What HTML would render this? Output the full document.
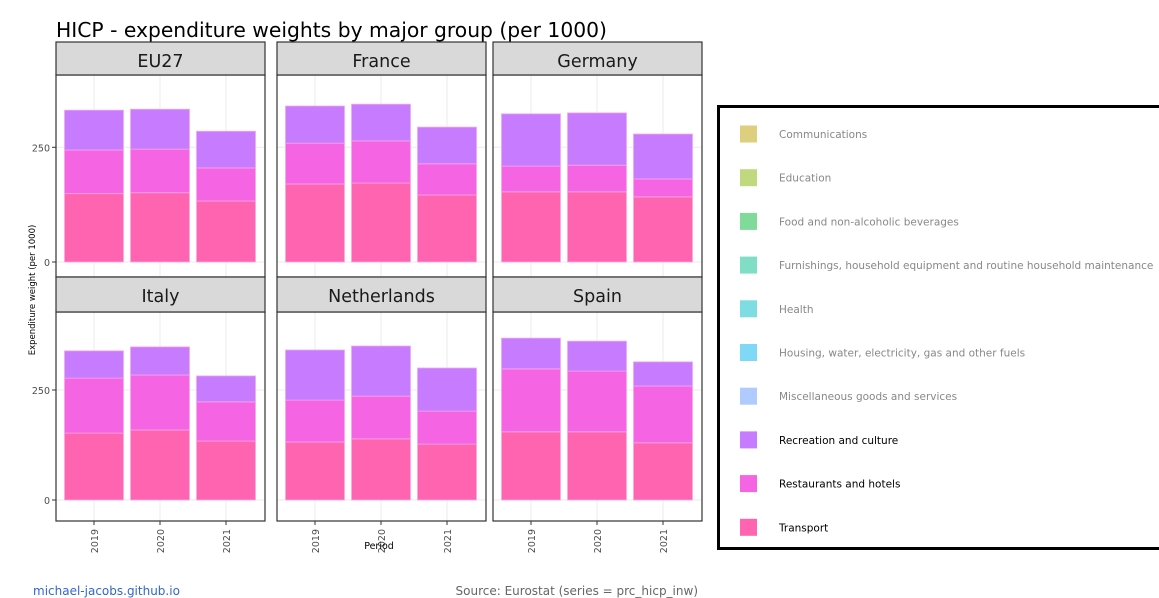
<!DOCTYPE html>
<html><head><meta charset="utf-8"><style>
body{margin:0;background:#fff;font-family:"DejaVu Sans",sans-serif}
svg{display:block}
</style></head><body>
<svg id="c" width="1159" height="598" xmlns="http://www.w3.org/2000/svg" font-family="DejaVu Sans, sans-serif"></svg>
<script>
const countries=["EU27","France","Germany","Italy","Netherlands","Spain"];
const years=["2019","2020","2021"];
const transport=[[149,151,133],[170,172,146],[153,153,142],[152,159,134],[132,139,127],[155,155,130]];
const restaurants=[[95,95,72],[89,92,68],[56,58,39],[125,125,89],[95,97,75],[143,138,129]];
const recreation=[[87,87,80],[81,80,80],[114,114,98],[62,64,59],[114,114,98],[70,68,55]];
const yTicks=[0,250];
const legendLabels=["Communications","Education","Food and non-alcoholic beverages","Furnishings, household equipment and routine household maintenance","Health","Housing, water, electricity, gas and other fuels","Miscellaneous goods and services","Recreation and culture","Restaurants and hotels","Transport"];
const legendColors=["#DDCF7E","#C0D97E","#80DB9A","#80DEC6","#7EDDE2","#7ED8F6","#AFCBFF","#C77CFF","#F564E3","#FF64B0"];
const legendActive=[false,false,false,false,false,false,false,true,true,true];

const svg=document.getElementById('c');
const NS="http://www.w3.org/2000/svg";
function mk(tag,attrs,parent){const e=document.createElementNS(NS,tag);for(const k in attrs)e.setAttribute(k,attrs[k]);(parent||svg).appendChild(e);return e;}
function txt(s,attrs,parent){const e=mk('text',attrs,parent);e.textContent=s;return e;}

const t=txt("HICP - expenditure weights by major group (per 1000)",{x:56,y:37,'font-size':20.3,fill:'#000'});



const panelX=[56,277,493];
const panelW=209;
const rows=[{strip:42,top:75,bot:277,zero:262,k:114.7/250},{strip:277,top:312,bot:521,zero:500,k:110/250}];

countries.forEach((c,i)=>{
  const r=rows[Math.floor(i/3)], px=panelX[i%3];
  const g=mk('g',{});
  
  
  const y=v=>r.zero-v*r.k;
  const xc=j=>px+38+j*66;
  yTicks.forEach(v=>mk('line',{x1:px,x2:px+panelW,y1:y(v),y2:y(v),stroke:'#ebebeb','stroke-width':1},g));
  years.forEach((yr,j)=>mk('line',{x1:xc(j),x2:xc(j),y1:r.top,y2:r.bot,stroke:'#ebebeb','stroke-width':1},g));
  years.forEach((yr,j)=>{
    const segs=[[transport[i][j],'#FF64B0','transport'],[restaurants[i][j],'#F564E3','restaurants'],[recreation[i][j],'#C77CFF','recreation']];
    let base=0;
    segs.forEach(s=>{
      const b=mk('rect',{x:xc(j)-29.5,width:59,y:y(base+s[0]),height:s[0]*r.k,fill:s[1],stroke:'#f7a8e6','stroke-width':0.8},g);
      
      
      base+=s[0];
    });
  });
  mk('rect',{x:px,y:r.top,width:panelW,height:r.bot-r.top,fill:'none',stroke:'#333','stroke-width':1.2},g);
  const st=mk('rect',{x:px,y:r.strip,width:panelW,height:r.top-r.strip,fill:'#d9d9d9',stroke:'#333','stroke-width':1.2},g);
  
  
  txt(c,{x:px+panelW/2,y:r.strip+25,'text-anchor':'middle','font-size':17.5,fill:'#1a1a1a'},g);
  if(i%3===0){
    yTicks.forEach(v=>{
      mk('line',{x1:px-4,x2:px,y1:y(v),y2:y(v),stroke:'#333'},g);
      const tl=txt(String(v),{x:px-6,y:y(v)+4,'text-anchor':'end','font-size':9.5,fill:'#4d4d4d'},g);
      
      
    });
  }
  if(i>=3){
    years.forEach((yr,j)=>{
      mk('line',{x1:xc(j),x2:xc(j),y1:r.bot,y2:r.bot+4,stroke:'#333'},g);
      const tl=txt(yr,{x:0,y:0,'font-size':9.5,fill:'#4d4d4d','text-anchor':'end',transform:`translate(${xc(j)+4},${r.bot+8}) rotate(-90)`},g);
      
      
    });
  }
});
const yt=txt("Expenditure weight (per 1000)",{x:0,y:0,'font-size':8.5,fill:'#000','text-anchor':'middle',transform:'translate(35,290) rotate(-90)'});


const xt=txt("Period",{x:379,y:549,'font-size':9.5,fill:'#000','text-anchor':'middle'});



const lg=mk('g',{});


mk('rect',{x:718.5,y:106.5,width:445,height:442,fill:'#fff',stroke:'#000','stroke-width':3},lg);
legendLabels.forEach((l,k)=>{
  const cy=134+k*43.7;
  const e=mk('g',{},lg);
  
  
  mk('rect',{x:740,y:cy-8.5,width:17,height:17,fill:legendColors[k]},e);
  txt(l,{x:779,y:cy+4,'font-size':10.5,fill:legendActive[k]?'#000':'#888'},e);
});
const s1=txt("michael-jacobs.github.io",{x:33,y:595,'font-size':12,fill:'#3366cc'});


const s2=txt("Source: Eurostat (series = prc_hicp_inw)",{x:698,y:595,'font-size':12,fill:'#666','text-anchor':'end'});


</script>
</body></html>
